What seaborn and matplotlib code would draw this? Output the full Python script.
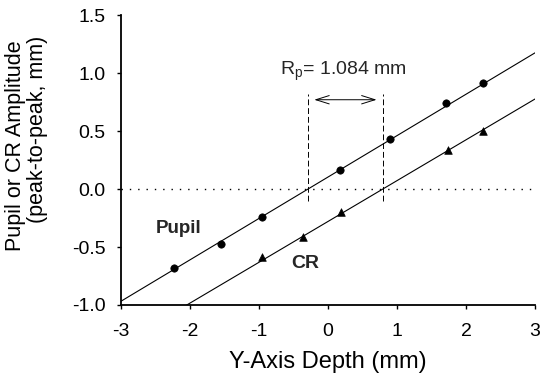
import numpy as np
import pandas as pd
import matplotlib
matplotlib.use("Agg")
import matplotlib.pyplot as plt
import seaborn as sns

# Measured amplitudes versus depth along the Y axis
pupil_depth = [-2.23, -1.55, -0.95, 0.18, 0.90, 1.71, 2.24]
pupil_amp = [-0.68, -0.475, -0.245, 0.16, 0.43, 0.74, 0.91]
cr_depth = [-0.95, -0.37, 0.19, 1.74, 2.24]
cr_amp = [-0.59, -0.41, -0.20, 0.34, 0.50]

# Linear fits: slope and zero crossing (mm)
pupil_slope, pupil_zero = 0.357, -0.29
cr_slope = 0.352
rp_value = 1.084
cr_zero = pupil_zero + rp_value

x_ticks = [-3, -2, -1, 0, 1, 2, 3]
y_ticks = [-1.0, -0.5, 0.0, 0.5, 1.0, 1.5]

sns.set_theme(style="ticks")
plt.rcParams["font.family"] = ["Liberation Sans", "DejaVu Sans"]

fig = plt.figure(figsize=(5.41, 3.77), dpi=100)
ax = fig.add_axes([0.2237, 0.191, 0.7653, 0.769])

pupil_df = pd.DataFrame({"depth": pupil_depth, "amp": pupil_amp})
cr_df = pd.DataFrame({"depth": cr_depth, "amp": cr_amp})

xs = np.array([-3.0, 3.0])
fit_df = pd.DataFrame({
    "depth": np.concatenate([xs, xs]),
    "amp": np.concatenate([pupil_slope * (xs - pupil_zero), cr_slope * (xs - cr_zero)]),
    "series": ["Pupil", "Pupil", "CR", "CR"],
})
sns.lineplot(data=fit_df, x="depth", y="amp", units="series", estimator=None,
             color="black", lw=0.8, ax=ax, legend=False)

sns.scatterplot(data=pupil_df, x="depth", y="amp", marker="o", s=28,
                color="black", edgecolor="black", linewidth=0.5, ax=ax, zorder=3)
sns.scatterplot(data=cr_df, x="depth", y="amp", marker="^", s=30,
                color="black", edgecolor="black", linewidth=0.5, ax=ax, zorder=3)

# zero reference
ax.plot([-3, 3], [0, 0], color="black", lw=1.0, linestyle=(0, (1, 5)))

# vertical markers at each zero crossing
for xz in (pupil_zero, cr_zero):
    ax.plot([xz, xz], [-0.1, 0.82], color="black", lw=0.7, linestyle=(0, (6, 3)))

ax.annotate("", xy=(pupil_zero + 0.05, 0.77), xytext=(cr_zero - 0.05, 0.77),
            arrowprops=dict(arrowstyle="<->,head_length=0.8,head_width=0.25",
                            color="black", lw=0.7))
ax.text(-0.70, 0.983, r"R$_\mathregular{p}$= %.3f mm" % rp_value, fontsize=14,
        ha="left", va="baseline")

ax.text(-2.17, -0.38, "Pupil", fontsize=13.5, fontweight="bold", ha="center", va="baseline")
ax.text(-0.333, -0.681, "CR", fontsize=14, fontweight="bold", ha="center", va="baseline")

ax.set_xlim(-3, 3)
ax.set_ylim(-1.0, 1.5)
ax.set_xticks(x_ticks)
ax.set_yticks(y_ticks)
ax.set_xticklabels([str(t) for t in x_ticks])
ax.set_yticklabels(["%.1f" % t for t in y_ticks])
ax.tick_params(axis="both", direction="out", length=3, width=1, labelsize=14,
               color="black", labelcolor="black")
ax.tick_params(axis="x", pad=10)
ax.tick_params(axis="y", pad=8)

for side in ("top", "right"):
    ax.spines[side].set_visible(False)
for side in ("left", "bottom"):
    ax.spines[side].set_color("black")
    ax.spines[side].set_linewidth(1.3)

ax.set_xlabel("Y-Axis Depth (mm)", fontsize=17, labelpad=8, color="black")
ax.set_ylabel("")

# two-line vertical axis title
fig.text(15.5 / 541, 1 - 146 / 377, "Pupil or CR Amplitude", rotation=90,
         fontsize=15.5, ha="center", va="center", color="black")
fig.text(37.5 / 541, 1 - 129 / 377, "(peak-to-peak, mm)", rotation=90,
         fontsize=15.5, ha="center", va="center", color="black")

ax.set_facecolor("white")
fig.patch.set_facecolor("white")

fig.savefig("out.png", dpi=100)
